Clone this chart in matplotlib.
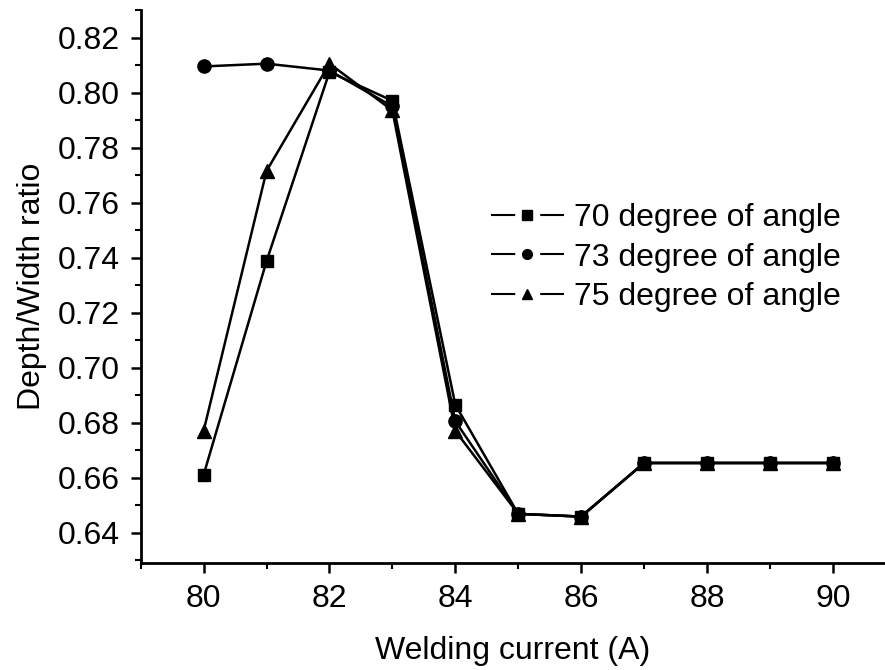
import matplotlib.pyplot as plt
from matplotlib.lines import Line2D
from matplotlib.ticker import MultipleLocator

plt.rcParams['font.family'] = ['Liberation Sans', 'DejaVu Sans']
plt.rcParams['lines.scale_dashes'] = False

current = [80, 81, 82, 83, 84, 85, 86, 87, 88, 89, 90]
ratio_70 = [0.661, 0.7387, 0.8075, 0.797, 0.6865, 0.6468, 0.6458, 0.6653, 0.6653, 0.6653, 0.6653]
ratio_73 = [0.8095, 0.8105, 0.808, 0.795, 0.6805, 0.6468, 0.6458, 0.6653, 0.6653, 0.6653, 0.6653]
ratio_75 = [0.677, 0.7715, 0.8105, 0.7935, 0.677, 0.6468, 0.6458, 0.6653, 0.6653, 0.6653, 0.6653]
labels = ['70 degree of angle', '73 degree of angle', '75 degree of angle']
markers = ['s', 'o', '^']

fs = 23

fig = plt.figure(figsize=(8.85, 6.7), dpi=100)
ax = fig.add_axes([0.159, 0.16, 0.841, 0.825])

ax.plot(current, ratio_70, color='black', lw=1.8, marker='s', ms=8.5)
ax.plot(current, ratio_73, color='black', lw=1.8, marker='o', ms=9.5)
ax.plot(current, ratio_75, color='black', lw=1.8, marker='^', ms=10.5)

ax.set_xlim(79, 90.83)
ax.set_ylim(0.629, 0.83)
ax.xaxis.set_major_locator(MultipleLocator(2))
ax.xaxis.set_minor_locator(MultipleLocator(1))
ax.yaxis.set_major_locator(MultipleLocator(0.02))
ax.yaxis.set_minor_locator(MultipleLocator(0.01))
ax.yaxis.set_major_formatter(plt.FormatStrFormatter('%.2f'))

for s in ['top', 'right']:
    ax.spines[s].set_visible(False)
for s in ['left', 'bottom']:
    ax.spines[s].set_linewidth(2)

ax.tick_params(which='major', direction='out', length=7, width=1.8, labelsize=fs, pad=8)
ax.tick_params(which='minor', direction='out', length=4.5, width=1.5)

ax.set_xlabel('Welding current (A)', fontsize=fs, labelpad=16)
ax.set_ylabel('Depth/Width ratio', fontsize=fs, labelpad=8)

# legend handles: line - marker - line with small gaps
hlen = 2.3
seg = hlen * fs * 0.33
gap = hlen * fs - 2 * seg
handles = [Line2D([], [], color='black', lw=1.5, marker=m, ms=7,
                  linestyle=(0, (seg, gap))) for m in markers]
ax.legend(handles, labels, loc='upper left', bbox_to_anchor=(0.453, 0.674), frameon=False,
          fontsize=fs, handlelength=hlen, labelspacing=0.3, handletextpad=0.3,
          borderaxespad=0)

fig.savefig('out.png', dpi=100)
